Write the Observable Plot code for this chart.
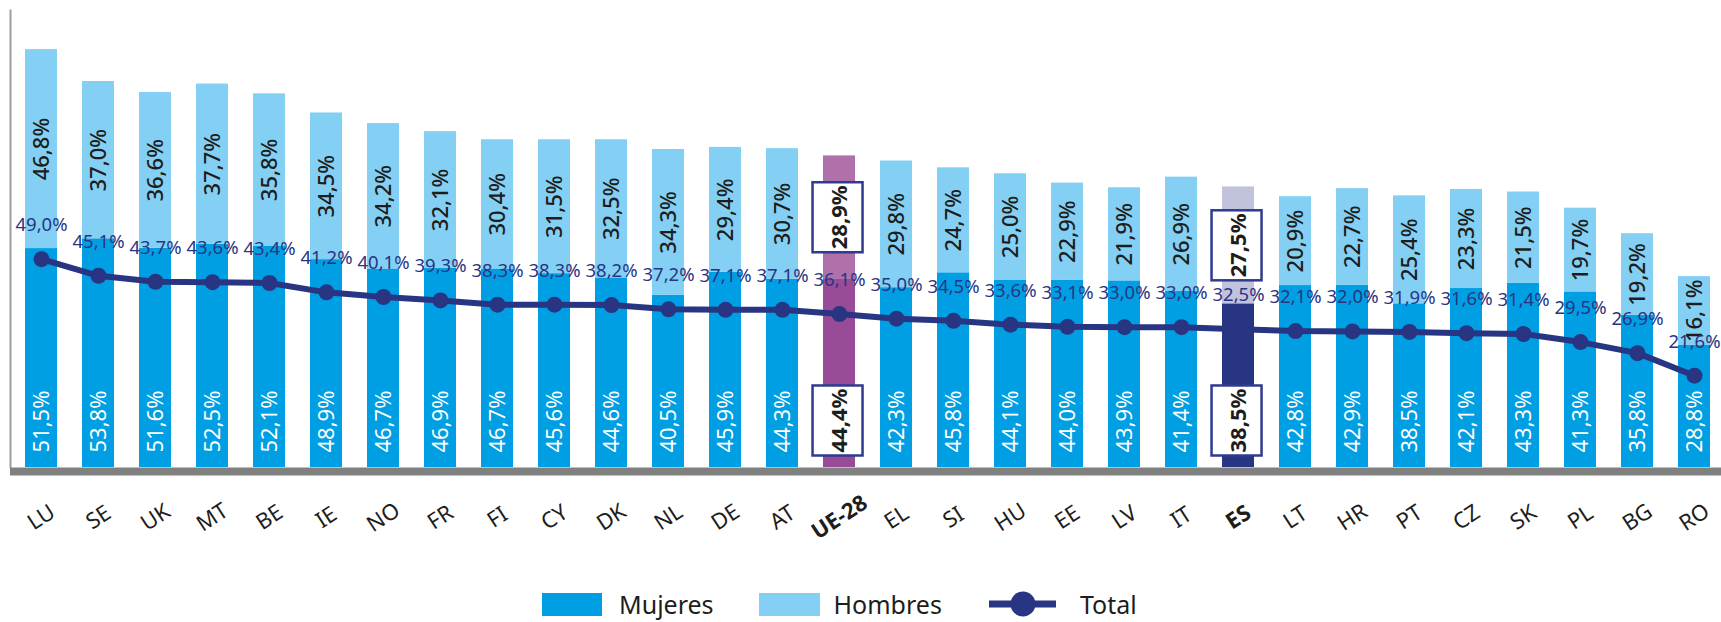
<!DOCTYPE html>
<html>
<head>
<meta charset="utf-8">
<script src="https://cdn.jsdelivr.net/npm/d3@7"></script>
<script src="https://cdn.jsdelivr.net/npm/@observablehq/plot@0.6"></script>
<style>
  body { margin: 0; background: #fff; font-family: "Noto Sans", sans-serif; }
  #chart { width: 1721px; height: 622px; position: relative; overflow: hidden; }
  #legend { position: absolute; left: 542px; top: 591px; height: 26px; display: flex; align-items: center; color: #1d1d1b; font-size: 25px; line-height: 26px; }
  .sw { width: 60px; height: 23px; }
</style>
</head>
<body>
<div id="chart"></div>
<script>
const countries = ["LU","SE","UK","MT","BE","IE","NO","FR","FI","CY","DK","NL","DE","AT","UE-28","EL","SI","HU","EE","LV","IT","ES","LT","HR","PT","CZ","SK","PL","BG","RO"];
const mujeres = [51.5,53.8,51.6,52.5,52.1,48.9,46.7,46.9,46.7,45.6,44.6,40.5,45.9,44.3,44.4,42.3,45.8,44.1,44.0,43.9,41.4,38.5,42.8,42.9,38.5,42.1,43.3,41.3,35.8,28.8];
const hombres = [46.8,37.0,36.6,37.7,35.8,34.5,34.2,32.1,30.4,31.5,32.5,34.3,29.4,30.7,28.9,29.8,24.7,25.0,22.9,21.9,26.9,27.5,20.9,22.7,25.4,23.3,21.5,19.7,19.2,16.1];
const total = [49.0,45.1,43.7,43.6,43.4,41.2,40.1,39.3,38.3,38.3,38.2,37.2,37.1,37.1,36.1,35.0,34.5,33.6,33.1,33.0,33.0,32.5,32.1,32.0,31.9,31.6,31.4,29.5,26.9,21.6];
const highlighted = ["UE-28", "ES"];
const seriesNames = ["Mujeres", "Hombres", "Total"];

const C = {
  muj: "#009fe3", hom: "#84d0f5", navy: "#283583",
  "UE-28": { m: "#984b96", h: "#b070aa" },
  "ES": { m: "#283583", h: "#c1c2dc" }
};

const rows = countries.map((c, i) => ({
  country: c, m: mujeres[i], h: hombres[i], t: total[i],
  special: highlighted.includes(c)
}));
const normal = rows.filter(d => !d.special);
const special = rows.filter(d => d.special);
const fmt = v => v.toFixed(1).replace(".", ",") + "%";

const plot = Plot.plot({
  width: 1721,
  height: 585,
  marginLeft: 10,
  marginRight: -4,
  marginTop: 10,
  marginBottom: 118,
  style: { fontFamily: "Noto Sans", background: "white", overflow: "visible" },
  x: { domain: countries, paddingInner: 0.44, paddingOuter: 0.2, axis: null },
  y: { domain: [0, 107.5], axis: null },
  color: { type: "identity" },
  marks: [
    Plot.frame({ anchor: "left", stroke: "#9d9d9d", strokeWidth: 2 }),
    Plot.barY(rows, { x: "country", y1: 0, y2: "m", fill: d => d.special ? C[d.country].m : C.muj }),
    Plot.barY(rows, { x: "country", y1: "m", y2: d => d.m + d.h, fill: d => d.special ? C[d.country].h : C.hom }),
    Plot.ruleY([0], { stroke: "#808080", strokeWidth: 8, dy: 4 }),
    Plot.text(normal, { x: "country", y: 0, dy: -15, text: d => fmt(d.m), rotate: -90, textAnchor: "start", fill: "white", fontSize: 22 }),
    Plot.text(normal, { x: "country", y: d => d.m + d.h / 2, text: d => fmt(d.h), rotate: -90, textAnchor: "middle", fill: "#1d1d1b", fontSize: 22, fontWeight: 500 }),
    Plot.line(rows, { x: "country", y: "t", stroke: C.navy, strokeWidth: 6 }),
    Plot.dot(rows, { x: "country", y: "t", r: 8, fill: C.navy }),
    Plot.text(rows, { x: "country", y: "t", dy: -34, text: d => fmt(d.t), fill: C.navy, fontSize: 18.5 }),
    Plot.text(special, { x: "country", y: 0, dy: -15, text: d => fmt(d.m), rotate: -90, textAnchor: "start", fill: "#1d1d1b", fontSize: 22, fontWeight: "bold", ariaLabel: () => "boxed" }),
    Plot.text(special, { x: "country", y: d => d.m + d.h / 2, text: d => fmt(d.h), rotate: -90, textAnchor: "middle", fill: "#1d1d1b", fontSize: 22, fontWeight: "bold", ariaLabel: () => "boxed" }),
    Plot.text(normal, { x: "country", y: 0, dy: 50, text: "country", rotate: -33, textAnchor: "middle", fill: "#1d1d1b", fontSize: 22 }),
    Plot.text(special, { x: "country", y: 0, dy: 50, text: "country", rotate: -33, textAnchor: "middle", fill: "#1d1d1b", fontSize: 22, fontWeight: "bold" })
  ]
});

const chart = document.getElementById("chart");
chart.append(plot);

// white boxes with navy border around the highlighted labels
plot.querySelectorAll('text[aria-label="boxed"]').forEach(t => {
  const b = t.getBBox();
  const r = document.createElementNS("http://www.w3.org/2000/svg", "rect");
  r.setAttribute("x", b.x - 3);
  r.setAttribute("y", b.y - 10);
  r.setAttribute("width", b.width + 6);
  r.setAttribute("height", b.height + 20);
  const tr = t.getAttribute("transform");
  if (tr) r.setAttribute("transform", tr);
  r.setAttribute("fill", "white");
  r.setAttribute("stroke", "#2e3b8f");
  r.setAttribute("stroke-width", "2.5");
  t.parentNode.insertBefore(r, t);
});

// legend
const legend = document.createElement("div");
legend.id = "legend";
legend.innerHTML = `
  <div class="sw" style="background:${C.muj}"></div>
  <span style="margin-left:17px">${seriesNames[0]}</span>
  <div class="sw" style="background:${C.hom};margin-left:45px;width:61px"></div>
  <span style="margin-left:14px">${seriesNames[1]}</span>
  <svg width="67" height="26" style="margin-left:47px;display:block">
    <line x1="0" y1="13" x2="67" y2="13" stroke="${C.navy}" stroke-width="7"/>
    <circle cx="34" cy="13" r="12.5" fill="${C.navy}"/>
  </svg>
  <span style="margin-left:24px">${seriesNames[2]}</span>`;
chart.append(legend);
</script>
</body>
</html>
